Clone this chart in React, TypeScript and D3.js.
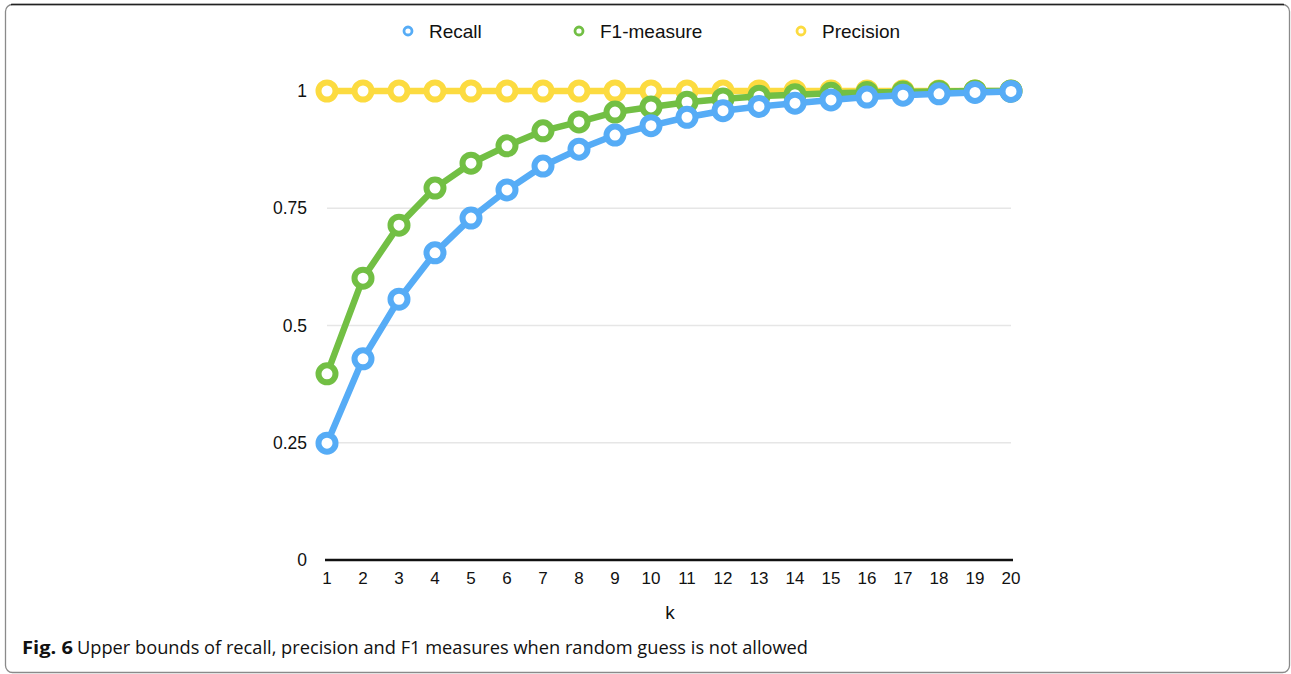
import * as d3 from "d3";

const ks = d3.range(1, 21);
const recall = [0.249, 0.429, 0.556, 0.655, 0.729, 0.789, 0.84, 0.876, 0.906, 0.926, 0.944, 0.958, 0.967, 0.974, 0.981, 0.987, 0.991, 0.994, 0.997, 0.999];
const f1 = [0.397, 0.601, 0.714, 0.793, 0.846, 0.883, 0.915, 0.934, 0.955, 0.966, 0.976, 0.983, 0.989, 0.992, 0.995, 0.997, 0.998, 0.999, 1.0, 1.0];
const precision = [1, 1, 1, 1, 1, 1, 1, 1, 1, 1, 1, 1, 1, 1, 1, 1, 1, 1, 1, 1];
const yTicks = [0, 0.25, 0.5, 0.75, 1];
const yTickLabels = ["0", "0.25", "0.5", "0.75", "1"];

const series = [
  { name: "Precision", values: precision, color: "#fcdb40" },
  { name: "F1-measure", values: f1, color: "#72bf44" },
  { name: "Recall", values: recall, color: "#56acf6" },
];
const legend = [
  { name: "Recall", color: "#56acf6", x: 408 },
  { name: "F1-measure", color: "#72bf44", x: 579 },
  { name: "Precision", color: "#fcdb40", x: 801 },
];

const W = 1291;
const H = 674;
const font = "'Liberation Sans', Arial, sans-serif";

const App = () => {
  const x = d3.scaleLinear().domain([1, 20]).range([327, 1011]);
  const y = d3.scaleLinear().domain([0, 1]).range([560, 91]);
  const line = d3
    .line<number>()
    .x((_, i) => x(ks[i]))
    .y((d) => y(d));

  return (
    <svg width={W} height={H} style={{ position: "absolute", left: 0, top: 0 }}>
      <rect x={0} y={0} width={W} height={H} fill="#fff" />
      <rect x={5.5} y={4.5} width={1284} height={668} rx={7} fill="none" stroke="#8a8a8a" strokeWidth={1.3} />
      <line x1={11} x2={1284} y1={4.5} y2={4.5} stroke="#222" strokeWidth={1.3} />

      {/* grid */}
      {yTicks.slice(1).map((t) => (
        <line key={t} x1={x(1)} x2={x(20)} y1={y(t)} y2={y(t)} stroke="#e6e6e6" strokeWidth={1.3} />
      ))}
      <line x1={x(1) - 2} x2={x(20) + 2} y1={y(0)} y2={y(0)} stroke="#111" strokeWidth={2.5} />

      {yTicks.map((t, i) => (
        <text key={t} x={307} y={y(t)} dy="0.35em" textAnchor="end" fontFamily={font} fontSize={17.5} fill="#111">
          {yTickLabels[i]}
        </text>
      ))}
      {ks.map((k) => (
        <text key={k} x={x(k)} y={584} textAnchor="middle" fontFamily={font} fontSize={17} fill="#111">
          {k}
        </text>
      ))}
      <text x={670} y={619} textAnchor="middle" fontFamily={font} fontSize={19} fill="#111">
        k
      </text>

      {series.map((s) => (
        <g key={s.name}>
          <path d={line(s.values) ?? ""} fill="none" stroke={s.color} strokeWidth={6.5} strokeLinejoin="round" />
          {s.values.map((v, i) => (
            <circle key={i} cx={x(ks[i])} cy={y(v)} r={8.5} fill="#fff" stroke={s.color} strokeWidth={6} />
          ))}
        </g>
      ))}

      {legend.map((l) => (
        <g key={l.name}>
          <circle cx={l.x} cy={31} r={4} fill="#fff" stroke={l.color} strokeWidth={2.8} />
          <text x={l.x + 21} y={31} dy="0.35em" fontFamily={font} fontSize={19} fill="#111">
            {l.name}
          </text>
        </g>
      ))}

      <text x={22} y={654} fontFamily="'Open Sans', sans-serif" fontSize={18} fontWeight="bold" fill="#111" textLength={51} lengthAdjust="spacingAndGlyphs">
        Fig. 6
      </text>
      <text x={77} y={654} fontFamily="'Open Sans', sans-serif" fontSize={18} fill="#111" textLength={731} lengthAdjust="spacingAndGlyphs">
        Upper bounds of recall, precision and F1 measures when random guess is not allowed
      </text>
    </svg>
  );
};

export default App;
